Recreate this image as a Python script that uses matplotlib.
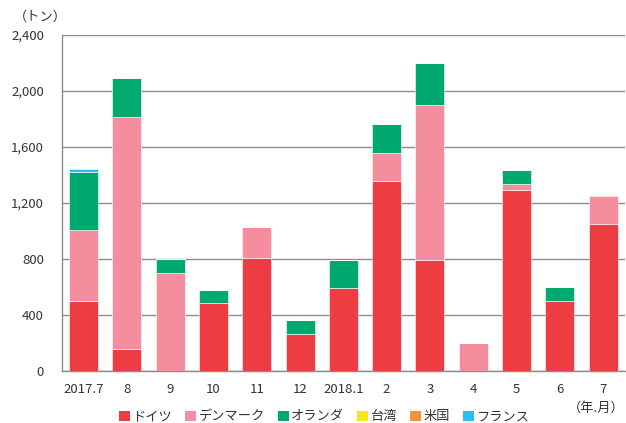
import matplotlib
matplotlib.use("Agg")
import numpy as np
import matplotlib.pyplot as plt
from matplotlib.patches import Patch

plt.rcParams["font.family"] = ["Noto Sans CJK JP", "DejaVu Sans"]

months = ["2017.7", "8", "9", "10", "11", "12", "2018.1", "2", "3", "4", "5", "6", "7"]

germany = [500, 160, 0, 485, 810, 262, 592, 1360, 795, 0, 1295, 502, 1050]
denmark = [505, 1655, 702, 0, 220, 0, 0, 200, 1105, 198, 40, 0, 200]
netherlands = [420, 280, 98, 96, 0, 100, 200, 202, 302, 0, 103, 100, 0]
taiwan = [0, 0, 0, 0, 0, 0, 0, 0, 0, 0, 0, 0, 0]
usa = [0, 0, 0, 0, 0, 0, 0, 0, 0, 0, 0, 0, 6]
france = [20, 0, 0, 0, 0, 0, 0, 0, 0, 0, 0, 0, 0]

series = [
    ("ドイツ", germany, "#ee3d42"),
    ("デンマーク", denmark, "#f48e9f"),
    ("オランダ", netherlands, "#00aa6f"),
    ("台湾", taiwan, "#f2e81c"),
    ("米国", usa, "#f7923a"),
    ("フランス", france, "#25c0ec"),
]

fig = plt.figure(figsize=(6.26, 4.23), dpi=100)
ax = fig.add_axes([0.099, 0.123, 0.899, 0.794])

x = np.arange(len(months))
bottom = np.zeros(len(months))
for name, vals, color in series:
    vals = np.array(vals, dtype=float)
    ax.bar(x, vals, 0.67, bottom=bottom, color=color, edgecolor="white",
           linewidth=0.4, zorder=3)
    bottom += vals

ax.set_xlim(-0.5, len(months) - 0.5)
ax.set_ylim(0, 2400)
ax.set_yticks(range(0, 2401, 400))
ax.set_yticklabels([f"{v:,}" for v in range(0, 2401, 400)])
ax.set_xticks(x)
ax.set_xticklabels(months)
ax.tick_params(length=0, labelsize=9.5, colors="#333333")
ax.tick_params(axis="y", pad=13)
ax.tick_params(axis="x", pad=9)

ax.grid(axis="y", color="#8c8c8c", linewidth=1, zorder=0)
for s in ["top", "right"]:
    ax.spines[s].set_visible(False)
for s in ["left", "bottom"]:
    ax.spines[s].set_color("#8c8c8c")
    ax.spines[s].set_linewidth(1)

fig.text(0.022, 0.96, "（トン）", fontsize=9.5, color="#333333", va="center")
fig.text(0.997, 0.035, "（年.月）", fontsize=9.5, color="#333333",
         va="center", ha="right")

handles = [Patch(facecolor=c, edgecolor="none") for _, _, c in series]
labels = [n for n, _, _ in series]
fig.legend(handles, labels, loc="center", bbox_to_anchor=(0.518, 0.015),
           ncol=6, frameon=False, fontsize=9.5, handlelength=0.8,
           handleheight=0.8, handletextpad=0.2, columnspacing=1.0,
           labelcolor="#333333")

fig.savefig("out.png", dpi=100)
